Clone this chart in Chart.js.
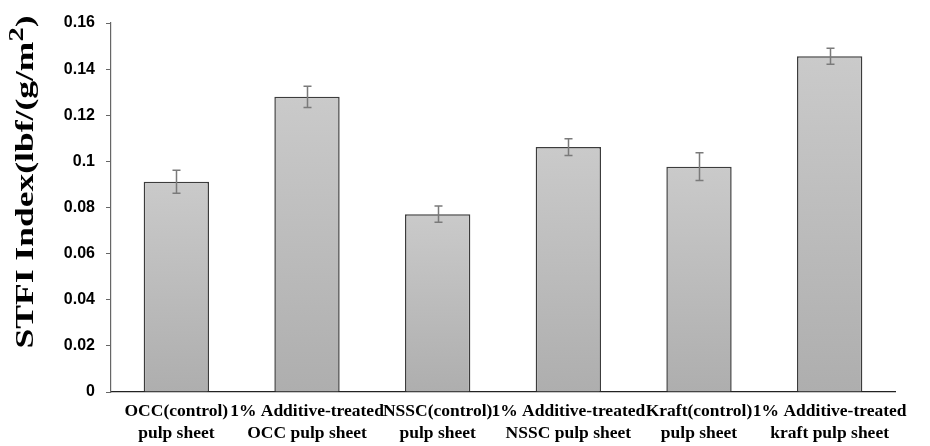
<!DOCTYPE html>
<html>
<head>
<meta charset="utf-8">
<script src="https://cdn.jsdelivr.net/npm/chart.js@4"></script>
<style>
  html, body { margin: 0; padding: 0; background: #fff; }
  #wrap { width: 930px; height: 446px; position: relative; }
</style>
</head>
<body>
<div id="wrap"><canvas id="c" width="930" height="446"></canvas></div>
<script>
// Sample groups (two-line axis labels)
const categories = [
  ['OCC(control)', 'pulp sheet'],
  ['1% Additive-treated', 'OCC pulp sheet'],
  ['NSSC(control)', 'pulp sheet'],
  ['1% Additive-treated', 'NSSC pulp sheet'],
  ['Kraft(control)', 'pulp sheet'],
  ['1% Additive-treated', 'kraft pulp sheet']
];
// Mean STFI index and standard deviation for each group
const stfiIndex = [0.0912, 0.1280, 0.0771, 0.1062, 0.0977, 0.1456];
const stfiError = [0.0050, 0.0046, 0.0035, 0.0036, 0.0060, 0.0035];
// Value-axis ticks
const yTicks = [0, 0.02, 0.04, 0.06, 0.08, 0.1, 0.12, 0.14, 0.16];

// Vertical gray gradient for each bar, from its top down to the baseline
function barFill(context) {
  const chart = context.chart;
  const ys = chart.scales.y;
  if (!chart.chartArea || !ys) return '#bdbdbd';
  const v = context.raw;
  const top = ys.getPixelForValue(v);
  const base = ys.getPixelForValue(0);
  const g = chart.ctx.createLinearGradient(0, top, 0, base);
  g.addColorStop(0, '#cacaca');
  g.addColorStop(1, '#aeaeae');
  return g;
}

// Error bars drawn from the stored deviations
const errorBars = {
  id: 'errorBars',
  afterDatasetsDraw(chart) {
    const ctx = chart.ctx;
    const ys = chart.scales.y;
    const meta = chart.getDatasetMeta(0);
    ctx.save();
    ctx.strokeStyle = '#7a7a7a';
    ctx.lineWidth = 1.5;
    meta.data.forEach((bar, i) => {
      const x = Math.round(bar.x) + 0.5;
      const hi = ys.getPixelForValue(stfiIndex[i] + stfiError[i]);
      const lo = ys.getPixelForValue(stfiIndex[i] - stfiError[i]);
      ctx.beginPath();
      ctx.moveTo(x, hi); ctx.lineTo(x, lo);
      ctx.moveTo(x - 4, hi); ctx.lineTo(x + 4, hi);
      ctx.moveTo(x - 4, lo); ctx.lineTo(x + 4, lo);
      ctx.stroke();
    });
    ctx.restore();
  }
};

// Rotated axis title with a raised exponent, stretched along its length
const yTitle = {
  id: 'yTitle',
  afterDraw(chart) {
    const ctx = chart.ctx;
    const main = 'STFI Index(lbf/(g/m';
    const sup = '2';
    const tail = ')';
    const fMain = 'bold 25px "Liberation Serif", "Times New Roman", serif';
    const fSup = 'bold 20px "Liberation Serif", "Times New Roman", serif';
    ctx.save();
    ctx.font = fMain;
    const w1 = ctx.measureText(main).width;
    const w3 = ctx.measureText(tail).width;
    ctx.font = fSup;
    const w2 = ctx.measureText(sup).width;
    const total = w1 + w2 + w3;
    const targetLen = 333;
    const sx = targetLen / total;
    ctx.translate(33, 182);
    ctx.rotate(-Math.PI / 2);
    ctx.scale(sx, 1);
    ctx.fillStyle = '#000';
    ctx.textBaseline = 'alphabetic';
    ctx.textAlign = 'left';
    let x = -total / 2;
    ctx.font = fMain;
    ctx.fillText(main, x, 0);
    x += w1;
    ctx.font = fSup;
    ctx.fillText(sup, x, -10);
    x += w2;
    ctx.font = fMain;
    ctx.fillText(tail, x, 0);
    ctx.restore();
  }
};

new Chart(document.getElementById('c'), {
  type: 'bar',
  data: {
    labels: categories,
    datasets: [{
      data: stfiIndex,
      backgroundColor: barFill,
      borderColor: '#3c3c3c',
      borderWidth: 1.5,
      borderSkipped: 'bottom',
      barPercentage: 0.5,
      categoryPercentage: 1.0
    }]
  },
  options: {
    responsive: false,
    animation: false,
    events: [],
    layout: { padding: { top: 23, right: 35, left: 0, bottom: 0 } },
    plugins: {
      legend: { display: false },
      tooltip: { enabled: false }
    },
    scales: {
      x: {
        grid: { display: false, drawTicks: false },
        border: { display: true, color: '#222', width: 1.2 },
        ticks: {
          color: '#000',
          padding: 9,
          maxRotation: 0,
          autoSkip: false,
          font: { family: '"Liberation Serif", "Times New Roman", serif', size: 17.5, weight: 'bold', lineHeight: 1.22 }
        },
        afterFit(scale) { scale.height = 54; }
      },
      y: {
        min: 0,
        max: 0.16,
        afterBuildTicks(scale) { scale.ticks = yTicks.map(v => ({ value: v })); },
        grid: { display: true, drawOnChartArea: false, drawTicks: true, tickLength: 5, color: '#666' },
        border: { display: true, color: '#666', width: 1.2 },
        ticks: {
          color: '#000',
          padding: 11,
          callback: v => String(+v.toFixed(2)),
          font: { family: '"Liberation Sans", Arial, sans-serif', size: 16, weight: 'bold' }
        },
        afterFit(scale) { scale.width = 111; }
      }
    }
  },
  plugins: [errorBars, yTitle]
});
</script>
</body>
</html>
